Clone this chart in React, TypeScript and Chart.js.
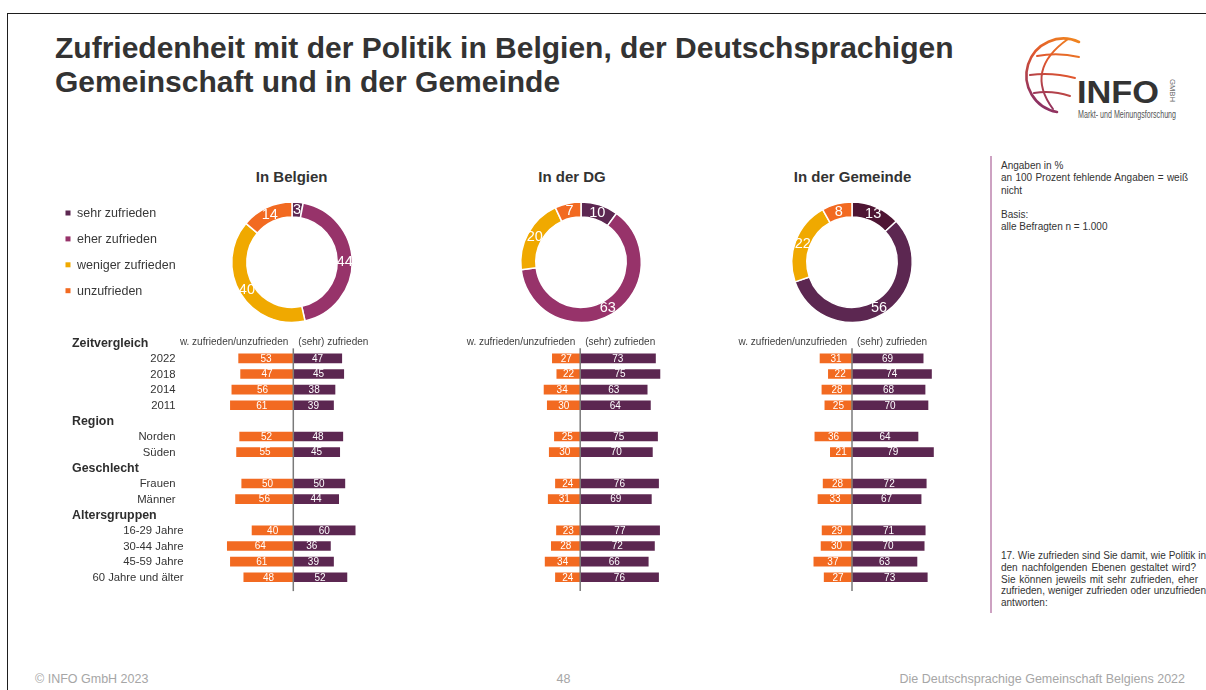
import React, { useEffect, useRef } from "react";
import { Chart, registerables } from "chart.js";

Chart.register(...registerables);

const FONT = '"Liberation Sans", Arial, Helvetica, sans-serif';
const TEXT = "#383838";

// ---------------- data ----------------
const donutLabels = ["sehr zufrieden", "eher zufrieden", "weniger zufrieden", "unzufrieden"];
const donutTitles = ["In Belgien", "In der DG", "In der Gemeinde"];
const belgienShares = [3, 44, 40, 14];
const dgShares = [10, 63, 20, 7];
const gemeindeShares = [13, 56, 22, 8];

const categories = [
  "Zeitvergleich", "2022", "2018", "2014", "2011",
  "Region", "Norden", "Süden",
  "Geschlecht", "Frauen", "Männer",
  "Altersgruppen", "16-29 Jahre", "30-44 Jahre", "45-59 Jahre", "60 Jahre und älter",
];
const groupHeadings = ["Zeitvergleich", "Region", "Geschlecht", "Altersgruppen"];
const sideLabels = ["w. zufrieden/unzufrieden", "(sehr) zufrieden"];

const belgienNegative = [null, 53, 47, 56, 61, null, 52, 55, null, 50, 56, null, 40, 64, 61, 48];
const belgienPositive = [null, 47, 45, 38, 39, null, 48, 45, null, 50, 44, null, 60, 36, 39, 52];
const dgNegative = [null, 27, 22, 34, 30, null, 25, 30, null, 24, 31, null, 23, 28, 34, 24];
const dgPositive = [null, 73, 75, 63, 64, null, 75, 70, null, 76, 69, null, 77, 72, 66, 76];
const gemeindeNegative = [null, 31, 22, 28, 25, null, 36, 21, null, 28, 33, null, 29, 30, 37, 27];
const gemeindePositive = [null, 69, 74, 68, 70, null, 64, 79, null, 72, 67, null, 71, 70, 63, 73];

const notesTop = ["Angaben in %", "an 100 Prozent fehlende Angaben = weiß", "nicht", "", "Basis:", "alle Befragten n = 1.000"];
const questionLines = [
  "17. Wie zufrieden sind Sie damit, wie Politik in",
  "den nachfolgenden Ebenen gestaltet wird?",
  "Sie können jeweils mit sehr zufrieden, eher",
  "zufrieden, weniger zufrieden oder unzufrieden",
  "antworten:",
];

// ---------------- colours ----------------
const COL_SEHR = "#5C2751";
const COL_EHER = "#97336A";
const COL_WENIGER = "#F0A900";
const COL_UNZ = "#F26A21";
const COL_SEHR_GEM = "#4E1533";
const standardColors = [COL_SEHR, COL_EHER, COL_WENIGER, COL_UNZ];
const gemeindeColors = [COL_SEHR_GEM, COL_SEHR, COL_WENIGER, COL_UNZ];

// ---------------- plugins ----------------
const donutValuePlugin = {
  id: "donutValues",
  afterDatasetsDraw(chart: any) {
    const ctx = chart.ctx;
    const meta = chart.getDatasetMeta(0);
    const data = chart.data.datasets[0].data;
    ctx.save();
    ctx.font = `14.5px ${FONT}`;
    ctx.fillStyle = "#ffffff";
    ctx.textAlign = "center";
    ctx.textBaseline = "middle";
    meta.data.forEach((arc: any, i: number) => {
      const p = arc.getProps(["x", "y", "startAngle", "endAngle", "innerRadius", "outerRadius"], true);
      const a = (p.startAngle + p.endAngle) / 2;
      const r = (p.innerRadius + p.outerRadius) / 2;
      ctx.fillText(String(data[i]), p.x + Math.cos(a) * r, p.y + Math.sin(a) * r + 0.5);
    });
    ctx.restore();
  },
};

const sideLegendPlugin = {
  id: "sideLegend",
  afterDraw(chart: any, _args: any, opts: any) {
    const ctx = chart.ctx;
    const labels = chart.data.labels;
    const colors = chart.data.datasets[0].backgroundColor;
    ctx.save();
    ctx.font = `12.5px ${FONT}`;
    ctx.textBaseline = "middle";
    ctx.textAlign = "left";
    labels.forEach((l: string, i: number) => {
      const y = 213 + i * 25.9 - opts.originY;
      ctx.fillStyle = colors[i];
      ctx.fillRect(65.5 - opts.originX, y - 2.5, 5, 5);
      ctx.fillStyle = TEXT;
      ctx.fillText(l, 77 - opts.originX, y + 0.5);
    });
    ctx.restore();
  },
};

const divergingPlugin = {
  id: "divergingDecor",
  afterDatasetsDraw(chart: any, _args: any, opts: any) {
    const ctx = chart.ctx;
    const xs = chart.scales.x;
    const ys = chart.scales.y;
    const x0 = xs.getPixelForValue(0);
    const area = chart.chartArea;
    ctx.save();
    // zero axis line
    ctx.strokeStyle = "#7a7a7a";
    ctx.lineWidth = 1.5;
    ctx.beginPath();
    ctx.moveTo(x0, ys.getPixelForValue(1) - 10);
    ctx.lineTo(x0, area.bottom + 6);
    ctx.stroke();
    // value labels
    ctx.font = `10px ${FONT}`;
    ctx.fillStyle = "#ffffff";
    ctx.textAlign = "center";
    ctx.textBaseline = "middle";
    chart.data.datasets.forEach((_ds: any, di: number) => {
      const meta = chart.getDatasetMeta(di);
      meta.data.forEach((bar: any, i: number) => {
        const v = opts.raw[di][i];
        if (v == null) return;
        const p = bar.getProps(["x", "base", "y"], true);
        ctx.fillText(String(v), (p.x + p.base) / 2, p.y + 0.5);
      });
    });
    // side headers
    const yh = ys.getPixelForValue(0);
    ctx.fillStyle = "#404040";
    ctx.font = `10px ${FONT}`;
    ctx.textAlign = "right";
    ctx.fillText(chart.data.datasets[0].label, x0 - 5, yh);
    ctx.textAlign = "left";
    ctx.fillText(chart.data.datasets[1].label, x0 + 5, yh);
    // category labels
    if (opts.categoryLabels) {
      let group = "";
      chart.data.labels.forEach((lab: string, i: number) => {
        const y = ys.getPixelForValue(i) + 0.5;
        if (groupHeadings.includes(lab)) {
          group = lab;
          ctx.font = `bold 12.4px ${FONT}`;
          ctx.textAlign = "left";
          ctx.fillStyle = "#2e2e2e";
          ctx.fillText(lab, 72 - opts.originX, y);
        } else {
          ctx.font = `11.3px ${FONT}`;
          ctx.textAlign = "right";
          ctx.fillStyle = "#333333";
          ctx.fillText(lab, (group === "Altersgruppen" ? 183.5 : 175.5) - opts.originX, y);
        }
      });
    }
    ctx.restore();
  },
};

// ---------------- components ----------------
type DonutProps = { values: number[]; colors: string[]; cx: number; cy: number; legend?: boolean };

function Donut({ values, colors, cx, cy, legend }: DonutProps) {
  const ref = useRef<HTMLCanvasElement>(null);
  const half = 61;
  const left = legend ? 55 : Math.floor(cx - half - 16);
  const top = Math.floor(cy - half - 16);
  const right = Math.ceil(cx + half + 16);
  const bottom = Math.ceil(cy + half + 16);
  const w = right - left;
  const h = bottom - top;
  useEffect(() => {
    const chart = new Chart(ref.current as HTMLCanvasElement, {
      type: "doughnut",
      data: {
        labels: donutLabels,
        datasets: [{ data: values, backgroundColor: colors, borderColor: "#ffffff", borderWidth: 1.5 }],
      },
      options: {
        responsive: false,
        animation: false,
        events: [],
        cutout: "75%",
        layout: {
          padding: { left: cx - half - left, right: right - cx - half, top: cy - half - top, bottom: bottom - cy - half },
        },
        plugins: {
          legend: { display: false },
          tooltip: { enabled: false },
          sideLegend: legend ? { originX: left, originY: top } : false,
        } as any,
      },
      plugins: [donutValuePlugin, sideLegendPlugin],
    } as any);
    return () => chart.destroy();
  }, []);
  return <canvas ref={ref} width={w} height={h} style={{ position: "absolute", left, top, width: w, height: h }} />;
}

type BarsProps = { negative: (number | null)[]; positive: (number | null)[]; zero: number; labels?: boolean };

function Bars({ negative, positive, zero, labels }: BarsProps) {
  const ref = useRef<HTMLCanvasElement>(null);
  const areaW = 165;
  const areaLeft = zero - areaW / 2;
  const areaTop = 334.9;
  const areaH = 250.2;
  const left = labels ? 60 : Math.floor(areaLeft - 50);
  const right = Math.ceil(areaLeft + areaW + 20);
  const top = 334;
  const bottom = 596;
  const w = right - left;
  const h = bottom - top;
  useEffect(() => {
    const totals = negative.map((n, i) => (n == null || positive[i] == null ? null : n + (positive[i] as number)));
    const negShare = negative.map((n, i) => (n == null ? null : -(n / (totals[i] as number)) * 100));
    const posShare = positive.map((p, i) => (p == null ? null : (p / (totals[i] as number)) * 100));
    const chart = new Chart(ref.current as HTMLCanvasElement, {
      type: "bar",
      data: {
        labels: categories,
        datasets: [
          { label: sideLabels[0], data: negShare, backgroundColor: COL_UNZ, barThickness: 9 },
          { label: sideLabels[1], data: posShare, backgroundColor: COL_SEHR, barThickness: 9 },
        ],
      },
      options: {
        indexAxis: "y",
        responsive: false,
        animation: false,
        events: [],
        layout: {
          padding: {
            left: areaLeft - left,
            right: right - (areaLeft + areaW),
            top: areaTop - top,
            bottom: bottom - (areaTop + areaH),
          },
        },
        scales: {
          x: { type: "linear", min: -80, max: 80, stacked: true, display: false },
          y: { type: "category", stacked: true, display: false, offset: true },
        },
        plugins: {
          legend: { display: false },
          tooltip: { enabled: false },
          divergingDecor: { raw: [negative, positive], originX: left, categoryLabels: !!labels },
        } as any,
      },
      plugins: [divergingPlugin],
    } as any);
    return () => chart.destroy();
  }, []);
  return <canvas ref={ref} width={w} height={h} style={{ position: "absolute", left, top, width: w, height: h }} />;
}

function Logo() {
  return (
    <svg
      width={190}
      height={95}
      viewBox="1015 30 190 95"
      style={{ position: "absolute", left: 1015, top: 30 }}
    >
      <defs>
        <linearGradient id="globeGrad" gradientUnits="userSpaceOnUse" x1="1082" y1="38" x2="1035" y2="110">
          <stop offset="0" stopColor="#F28A1E" />
          <stop offset="0.45" stopColor="#E0562E" />
          <stop offset="1" stopColor="#7E2A6C" />
        </linearGradient>
      </defs>
      <g fill="none" stroke="url(#globeGrad)" strokeLinecap="round">
        <path d="M 1079 42 A 37 37 0 1 0 1057 112" strokeWidth={2.6} />
        <path d="M 1068 39 Q 1024 70 1053 109" strokeWidth={2} />
        <path d="M 1037 56 Q 1058 52 1079 57" strokeWidth={2} />
        <path d="M 1030 75 Q 1052 72 1075 78" strokeWidth={2} />
        <path d="M 1034 93 Q 1052 90 1070 96" strokeWidth={2} />
      </g>
      <text
        x={1077}
        y={103}
        fontFamily={FONT}
        fontWeight="bold"
        fontSize={32}
        fill="#333333"
        textLength={82}
        lengthAdjust="spacingAndGlyphs"
      >
        INFO
      </text>
      <text
        transform="translate(1170 79) rotate(90)"
        fontFamily={FONT}
        fontSize={7}
        fill="#666666"
        textLength={23}
        lengthAdjust="spacingAndGlyphs"
      >
        GMBH
      </text>
      <text
        x={1078}
        y={118}
        fontFamily={'"Liberation Sans Narrow", ' + FONT}
        fontSize={10}
        fill="#555555"
        textLength={98}
        lengthAdjust="spacingAndGlyphs"
      >
        Markt- und Meinungsforschung
      </text>
    </svg>
  );
}

const donutCenters = [
  { cx: 292, cy: 262.2 },
  { cx: 581, cy: 262.2 },
  { cx: 852, cy: 262.2 },
];
const titleCenters = [291.7, 572, 852.5];

export default function App() {
  const abs = (extra: React.CSSProperties): React.CSSProperties => ({ position: "absolute", whiteSpace: "nowrap", ...extra });
  return (
    <div
      style={{
        position: "absolute",
        left: 0,
        top: 0,
        width: 1206,
        height: 690,
        overflow: "hidden",
        background: "#ffffff",
        fontFamily: FONT,
        color: TEXT,
      }}
    >
      <div style={{ position: "absolute", left: 7, top: 13, width: 1400, height: 900, border: "1.5px solid #1e1e1e" }} />

      <div style={abs({ left: 55, top: 31, fontSize: 30, fontWeight: "bold", lineHeight: "34px", color: "#333333" })}>
        Zufriedenheit mit der Politik in Belgien, der Deutschsprachigen
        <br />
        Gemeinschaft und in der Gemeinde
      </div>

      <Logo />

      {donutTitles.map((t, i) => (
        <div
          key={t}
          style={abs({
            left: titleCenters[i] - 100,
            width: 200,
            top: 168.5,
            textAlign: "center",
            fontSize: 15,
            lineHeight: "15px",
            fontWeight: "bold",
            color: "#333333",
          })}
        >
          {t}
        </div>
      ))}

      <Donut values={belgienShares} colors={standardColors} cx={donutCenters[0].cx} cy={donutCenters[0].cy} legend />
      <Donut values={dgShares} colors={standardColors} cx={donutCenters[1].cx} cy={donutCenters[1].cy} />
      <Donut values={gemeindeShares} colors={gemeindeColors} cx={donutCenters[2].cx} cy={donutCenters[2].cy} />

      <Bars negative={belgienNegative} positive={belgienPositive} zero={293.3} labels />
      <Bars negative={dgNegative} positive={dgPositive} zero={580.2} />
      <Bars negative={gemeindeNegative} positive={gemeindePositive} zero={852} />

      <div style={{ position: "absolute", left: 990, top: 156, width: 2, height: 457, background: "#CDA2C2" }} />

      <div style={abs({ left: 1001, top: 160, fontSize: 10, lineHeight: "12.3px", color: "#333333" })}>
        {notesTop.map((l, i) => (
          <div
            key={i}
            style={{
              height: 12.3,
              width: i === 1 ? 187 : "auto",
              textAlign: i === 1 ? "justify" : "left",
              textAlignLast: i === 1 ? "justify" : "auto",
            }}
          >
            {l}
          </div>
        ))}
      </div>

      <div style={abs({ left: 1001, top: 550.3, fontSize: 10, lineHeight: "11.7px", color: "#333333" })}>
        {questionLines.map((l, i) => {
          const widths = [205, 195, 197, 205];
          const justify = i < widths.length;
          return (
            <div
              key={i}
              style={{
                height: 11.7,
                width: justify ? widths[i] : "auto",
                textAlign: justify ? "justify" : "left",
                textAlignLast: justify ? "justify" : "auto",
              }}
            >
              {l}
            </div>
          );
        })}
      </div>

      <div style={abs({ left: 35, top: 672.8, fontSize: 12.5, lineHeight: "12.5px", color: "#A6A6A6" })}>© INFO GmbH 2023</div>
      <div style={abs({ left: 513.5, width: 100, top: 672.8, textAlign: "center", fontSize: 12.5, lineHeight: "12.5px", color: "#A6A6A6" })}>
        48
      </div>
      <div style={abs({ right: 21, top: 672.8, fontSize: 12.5, lineHeight: "12.5px", color: "#A6A6A6" })}>
        Die Deutschsprachige Gemeinschaft Belgiens 2022
      </div>
    </div>
  );
}
